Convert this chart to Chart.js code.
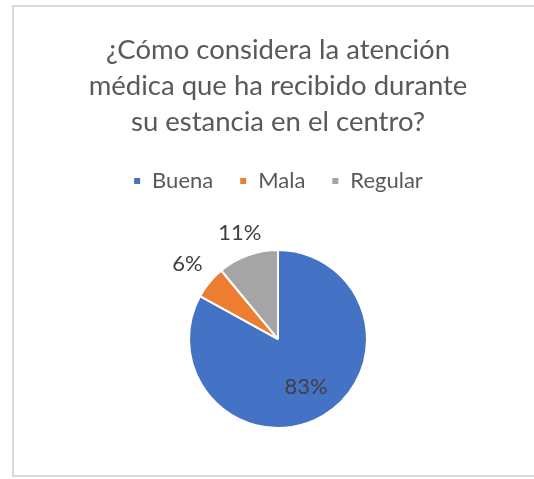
<!DOCTYPE html>
<html>
<head>
<meta charset="utf-8">
<script src="https://cdn.jsdelivr.net/npm/chart.js@4"></script>
<style>
  html, body { margin: 0; padding: 0; background: #fff; overflow: hidden; }
  #frame {
    position: absolute; left: 12px; top: 5px;
    width: 522px; height: 468px;
    border: 2px solid #d9d9d9; border-right: none;
  }
</style>
</head>
<body>
<div id="frame"><canvas id="chart-atencion"></canvas></div>
<script>
// ─── DATOS ──────────────────────────────────────────────────────
const TITLE_LINES = [
  "¿Cómo considera la atención",
  "médica que ha recibido durante",
  "su estancia en el centro?",
];
const CATEGORIES = ["Buena", "Mala", "Regular"];
const PERCENTS   = [83, 6, 11];

// ─── PALETA ─────────────────────────────────────────────────────
const C = {
  blue:   "#4472C4",
  orange: "#ED7D31",
  gray:   "#A5A5A5",
  text:   "#595959",
  label:  "#404040",
};
const FONT = "Lato, 'Open Sans', sans-serif";

// espacio extra bajo la leyenda
const legendGap = {
  id: "legendGap",
  beforeInit(chart) {
    const fit = chart.legend.fit;
    chart.legend.fit = function () {
      fit.call(this);
      this.height += 47;
    };
  },
};

// etiquetas de porcentaje: dentro si el sector es grande, fuera si es pequeño
const pctLabels = {
  id: "pctLabels",
  afterDatasetsDraw(chart) {
    const { ctx } = chart;
    const meta = chart.getDatasetMeta(0);
    ctx.save();
    ctx.font = "22px " + FONT;
    ctx.fillStyle = C.label;
    ctx.textAlign = "center";
    ctx.textBaseline = "middle";
    meta.data.forEach((arc, i) => {
      const { x, y, startAngle, endAngle, outerRadius } = arc.getProps(
        ["x", "y", "startAngle", "endAngle", "outerRadius"], true);
      const mid = (startAngle + endAngle) / 2;
      const dx = Math.cos(mid), dy = Math.sin(mid);
      const text = PERCENTS[i] + "%";
      let dist;
      if (PERCENTS[i] > 20) {
        dist = outerRadius * 0.62;
      } else {
        const w = ctx.measureText(text).width / 2 + 1;
        const h = 10;
        const edge = Math.min(w / Math.max(Math.abs(dx), 1e-6), h / Math.max(Math.abs(dy), 1e-6));
        dist = outerRadius + 13 + edge;
      }
      ctx.fillText(text, x + dx * dist, y + dy * dist);
    });
    ctx.restore();
  },
};

new Chart(document.getElementById("chart-atencion"), {
  type: "pie",
  data: {
    labels: CATEGORIES,
    datasets: [{
      data: PERCENTS,
      backgroundColor: [C.blue, C.orange, C.gray],
      borderColor: "#ffffff",
      borderWidth: 2,
    }],
  },
  options: {
    responsive: true,
    maintainAspectRatio: false,
    animation: false,
    layout: { padding: { left: 6, right: 0, top: 0, bottom: 46 } },
    plugins: {
      title: {
        display: true,
        text: TITLE_LINES,
        color: C.text,
        font: { family: FONT, size: 27.5, weight: "normal", lineHeight: 1.31 },
        padding: { top: 25, bottom: 4 },
      },
      legend: {
        position: "top",
        labels: {
          color: C.text,
          font: { family: FONT, size: 22 },
          boxWidth: 8,
          boxHeight: 8,
          padding: 26,
        },
      },
      tooltip: { enabled: false },
    },
  },
  plugins: [legendGap, pctLabels],
});
</script>
</body>
</html>
